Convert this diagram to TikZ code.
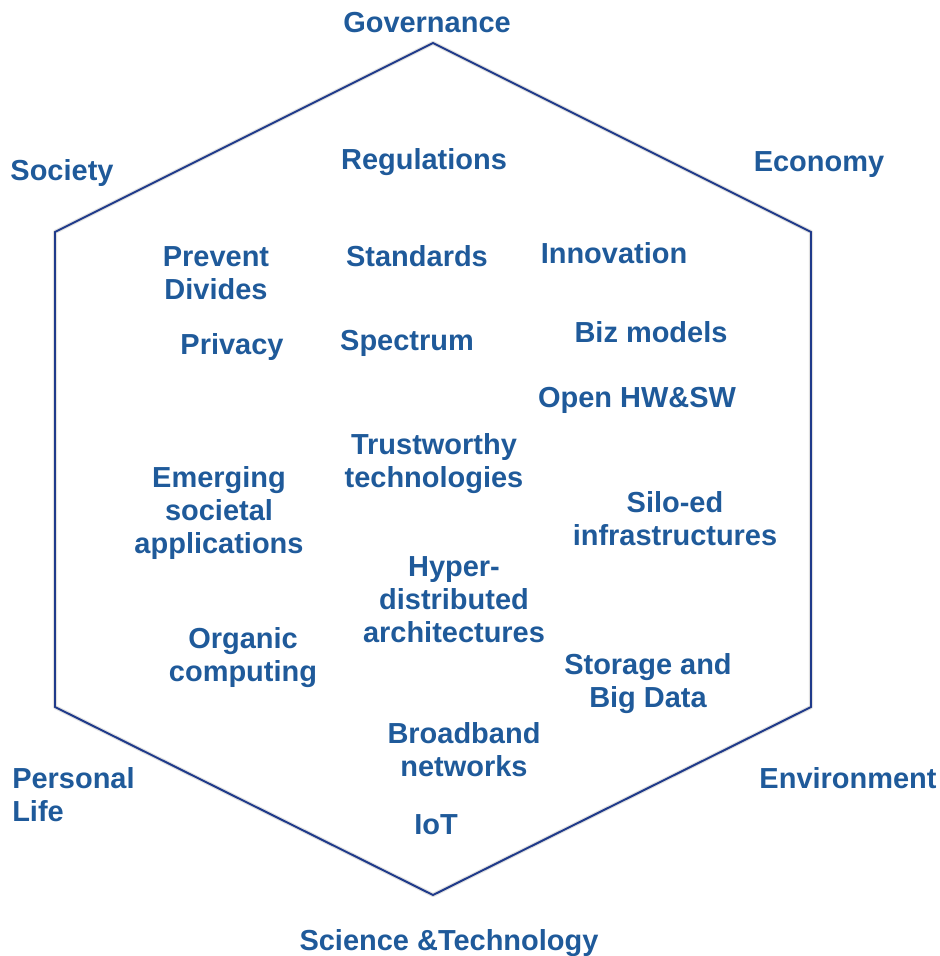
\documentclass[tikz,border=0pt]{standalone}
\usepackage{fontspec}
\setmainfont{Liberation Sans}
\usepackage{xcolor}
\definecolor{hexline}{HTML}{1F3A8A}
\definecolor{labelblue}{HTML}{1F5A9A}
\begin{document}
\begin{tikzpicture}[x=0.025cm,y=-0.025cm,
          lbl/.style={text=labelblue,font=\bfseries\fontsize{20.6}{23.6}\selectfont,align=center,inner sep=0pt,yshift=-2pt}]
          \useasboundingbox (0,0) rectangle (940,956);
          % hexagon corners
          \coordinate (top) at (433,43);
          \coordinate (ur) at (811,232);
          \coordinate (lr) at (811,707);
          \coordinate (bot) at (433,895);
          \coordinate (ll) at (55,707);
          \coordinate (ul) at (55,232);
          \draw[black!12,line width=3pt,line join=round,shift={(3,-4)}]
            (top) -- (ur) -- (lr) -- (bot) -- (ll) -- (ul) -- cycle;
          \draw[hexline,line width=1.4pt,line join=miter]
            (top) -- (ur) -- (lr) -- (bot) -- (ll) -- (ul) -- cycle;
          % outer labels
          \node[lbl] (gov) at (427,20) {Governance};
          \node[lbl] (soc) at (62,170) {Society};
          \node[lbl] (eco) at (819,162) {Economy};
          \node[lbl,align=left,anchor=west] (pers) at (12,792) {Personal\\Life};
          \node[lbl] (env) at (848,775) {Environment};
          \node[lbl] (scitech) at (449,940) {Science \&Technology};
          % inner labels
          \node[lbl] (regul) at (424,159) {Regulations};
          \node[lbl] (prevent) at (216,270) {Prevent\\Divides};
          \node[lbl] (standards) at (417,253) {Standards};
          \node[lbl] (innov) at (614,250) {Innovation};
          \node[lbl] (privacy) at (232,344) {Privacy};
          \node[lbl] (spectrum) at (407,341) {Spectrum};
          \node[lbl] (biz) at (651,329) {Biz models};
          \node[lbl] (openhw) at (637,398) {Open HW\&SW};
          \node[lbl] (trust) at (434,461) {Trustworthy\\technologies};
          \node[lbl] (emerging) at (219,510) {Emerging\\societal\\applications};
          \node[lbl] (silo) at (675,516) {Silo-ed\\infrastructures};
          \node[lbl] (hyper) at (454,597) {Hyper-\\distributed\\architectures};
          \node[lbl] (organic) at (243,655) {Organic\\computing};
          \node[lbl] (storage) at (648,681) {Storage and\\Big Data};
          \node[lbl] (broadband) at (464,747) {Broadband\\networks};
          \node[lbl] (iot) at (436,822) {IoT};
        \end{tikzpicture}
\end{document}
